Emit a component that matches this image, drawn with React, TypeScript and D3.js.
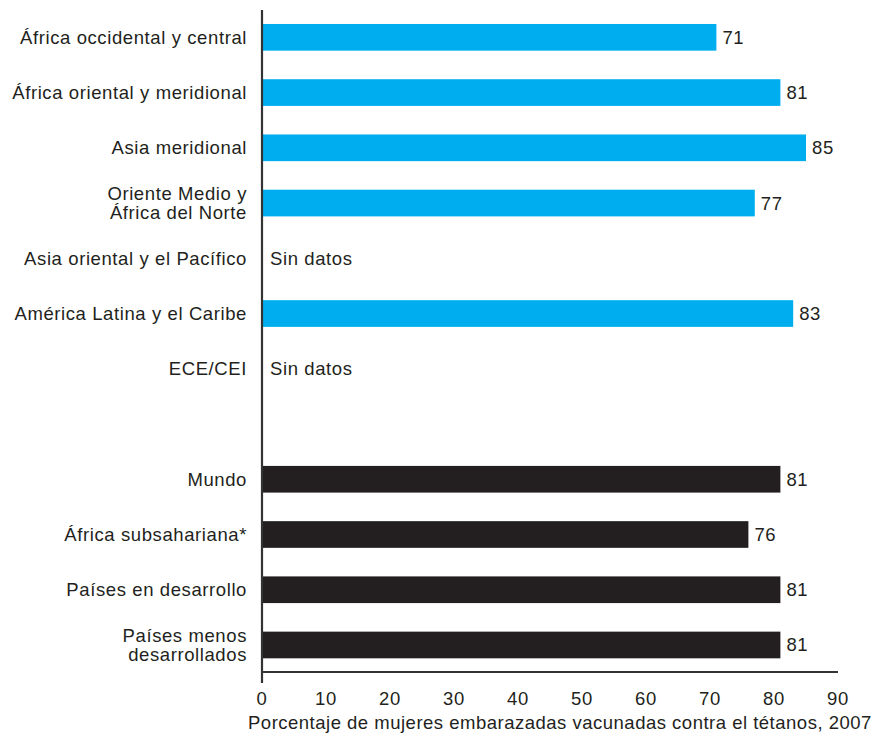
import * as d3 from "d3";

// Etiquetas de las filas (las que llevan "\n" van en dos líneas)
const regionLabels = [
  "África occidental y central",
  "África oriental y meridional",
  "Asia meridional",
  "Oriente Medio y\nÁfrica del Norte",
  "Asia oriental y el Pacífico",
  "América Latina y el Caribe",
  "ECE/CEI",
];
const regionValues: (number | null)[] = [71, 81, 85, 77, null, 83, null];

const summaryLabels = [
  "Mundo",
  "África subsahariana*",
  "Países en desarrollo",
  "Países menos\ndesarrollados",
];
const summaryValues = [81, 76, 81, 81];

const xTicks = [0, 10, 20, 30, 40, 50, 60, 70, 80, 90];
const xTitle = "Porcentaje de mujeres embarazadas vacunadas contra el tétanos, 2007";
const noDataText = "Sin datos";

const W = 873;
const H = 733;
const FONT = "'Liberation Sans', Arial, Helvetica, sans-serif";
const FS = 18.5;
const LS = 0.6;
const BLUE = "#00AEEF";
const DARK = "#231F20";
const INK = "#231F20";

type Row = { key: string; label: string; value: number | null; group: "region" | "summary" };

const rows: Row[] = [
  ...regionLabels.map((label, i) => ({ key: `r${i}`, label, value: regionValues[i], group: "region" as const })),
  { key: "gap", label: "", value: null, group: "region" as const },
  ...summaryLabels.map((label, i) => ({ key: `s${i}`, label, value: summaryValues[i], group: "summary" as const })),
];

export default function App() {
  const x = d3.scaleLinear().domain([0, 90]).range([262, 838]);
  const y = d3
    .scaleBand<string>()
    .domain(rows.map((r) => r.key))
    .range([9.7, 672.6])
    .paddingInner(0.517)
    .paddingOuter(0.2585);

  const axisY = 672;
  const bw = y.bandwidth();
  const lineH = 18.5;

  return (
    <svg
      width={W}
      height={H}
      viewBox={`0 0 ${W} ${H}`}
      style={{ position: "absolute", left: 0, top: 0, background: "#fff", fontFamily: FONT }}
    >
      {rows
        .filter((r) => r.key !== "gap")
        .map((r) => {
          const cy = (y(r.key) ?? 0) + bw / 2;
          const lines = r.label.split("\n");
          return (
            <g key={r.key}>
              {lines.map((l, i) => (
                <text
                  key={i}
                  x={x(0) - 15}
                  y={cy + (i - (lines.length - 1) / 2) * lineH}
                  textAnchor="end"
                  dominantBaseline="central"
                  fontSize={FS}
                  letterSpacing={LS}
                  fill={INK}
                >
                  {l}
                </text>
              ))}
              {r.value != null ? (
                <>
                  <rect
                    x={x(0)}
                    y={y(r.key)}
                    width={x(r.value) - x(0)}
                    height={bw}
                    fill={r.group === "region" ? BLUE : DARK}
                  />
                  <text
                    x={x(r.value) + 6}
                    y={cy}
                    dominantBaseline="central"
                    fontSize={FS}
                    letterSpacing={LS}
                    fill={INK}
                  >
                    {r.value}
                  </text>
                </>
              ) : (
                <text
                  x={x(0) + 8}
                  y={cy}
                  dominantBaseline="central"
                  fontSize={FS}
                  letterSpacing={LS}
                  fill={INK}
                >
                  {noDataText}
                </text>
              )}
            </g>
          );
        })}

      {/* ejes */}
      <line x1={x(0)} x2={x(0)} y1={10} y2={683} stroke="#333" strokeWidth={2.2} />
      <line x1={x(0)} x2={x(90)} y1={axisY} y2={axisY} stroke="#333" strokeWidth={2} />

      {xTicks.map((t) => (
        <text
          key={t}
          x={x(t)}
          y={698}
          textAnchor="middle"
          dominantBaseline="central"
          fontSize={FS}
          letterSpacing={LS}
          fill={INK}
        >
          {t}
        </text>
      ))}
      <text x={x(0) - 14} y={722} dominantBaseline="central" fontSize={FS} letterSpacing={0.5} fill={INK}>
        {xTitle}
      </text>
    </svg>
  );
}
